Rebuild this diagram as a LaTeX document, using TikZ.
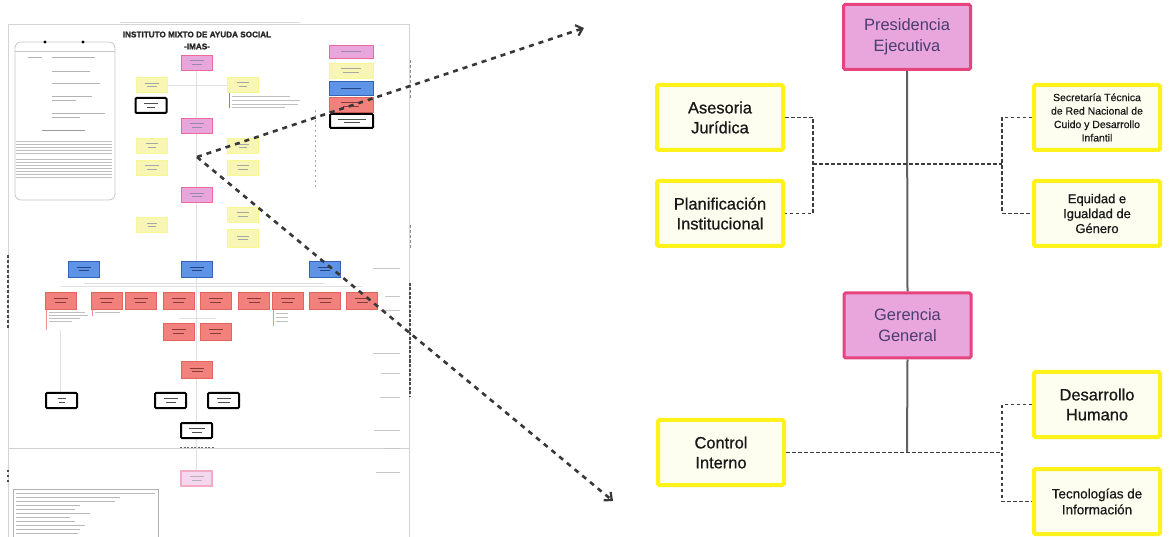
\documentclass[tikz,border=0pt]{standalone}
\usepackage{fontspec}
\setmainfont{Liberation Sans}
\usetikzlibrary{arrows.meta}
\definecolor{pinkF}{HTML}{E8A6DC}
\definecolor{pinkB}{HTML}{E5457F}
\definecolor{yelB}{HTML}{FFF21A}
\definecolor{yelF}{HTML}{FDFEF0}
\definecolor{lineC}{HTML}{3C3C3C}
\definecolor{txtP}{HTML}{4A3D70}
\definecolor{tYel}{HTML}{F8F6B4}
\definecolor{tBlueF}{HTML}{5F93E6}
\definecolor{tBlueB}{HTML}{3462B8}
\definecolor{tRedF}{HTML}{F2807C}
\definecolor{tRedB}{HTML}{E3645E}
\definecolor{frameC}{HTML}{D4D4D4}
\newcommand\tbar[1]{\rule{#1}{0.9bp}}
\tikzset{
  pinkbig/.style={draw=pinkB, line width=3bp, fill=pinkF, minimum width=127bp, minimum height=65bp,
    align=center, text=txtP, inner sep=0pt, rounded corners=1.5bp, font=\fontsize{16.5}{21}\selectfont},
  yelbig/.style={draw=yelB, line width=4bp, fill=yelF, minimum width=126bp, minimum height=65bp,
    align=center, text=black!90, inner sep=0pt, rounded corners=1.5bp},
  fbig/.style={font=\fontsize{16.5}{20}\selectfont\addfontfeature{FakeBold=0.8}},
  solidc/.style={draw=black!62, line width=2bp},
  dashc/.style={draw=lineC, line width=1.8bp, dash pattern=on 3.5bp off 2.5bp},
  zoomarrow/.style={draw=black!78, line width=2.6bp, dash pattern=on 5bp off 5bp,
    -{Straight Barb[length=6bp,width=11bp,line width=2.2bp]}},
  tbox/.style={minimum width=31bp, minimum height=15bp, inner sep=0pt, align=center,
    font=\fontsize{3}{3}\selectfont, line width=0.8bp},
  tpink/.style={tbox, draw=pinkB!80, fill=pinkF, text=txtP!60},
  tyel/.style={tbox, draw=tYel!80!yellow, fill=tYel, text=black!35},
  tblue/.style={tbox, minimum height=16bp, draw=tBlueB, fill=tBlueF, text=tBlueB!70!black},
  tred/.style={tbox, minimum height=17bp, draw=tRedB, fill=tRedF, text=tRedB!60!black},
  tblack/.style={tbox, draw=black, line width=2bp, fill=white, rounded corners=1bp, text=black!70},
  tfaint/.style={draw=black!12, line width=0.6bp},
}
\begin{document}
\begin{tikzpicture}[x=1bp,y=-1bp]
\useasboundingbox (0,0) rectangle (1170,537);
\fill[white] (0,0) rectangle (1170,537);

% ================= THUMBNAIL (left) =================
\draw[frameC, line width=1bp] (8,545) -- (8,25) -- (409,25) -- (409,545);
\draw[black!15, line width=0.6bp] (120,22) -- (300,22);
\draw[black!70, line width=1.2bp, dash pattern=on 3bp off 2bp] (8,255) -- (8,330);
\draw[black!70, line width=1.2bp, dash pattern=on 2bp off 3bp] (8,470) -- (8,485);
\draw[black!70, line width=1.6bp, dash pattern=on 3bp off 1.5bp] (410,283) -- (410,397);
\draw[black!45, line width=1bp, dash pattern=on 3bp off 2bp] (410,60) -- (410,100);
\draw[black!45, line width=1bp, dash pattern=on 3bp off 2bp] (410,225) -- (410,250);
\draw[black!18, line width=0.8bp] (8,448) -- (409,448);

% title
\node[font=\bfseries\fontsize{8.2}{9}\selectfont\addfontfeature{FakeBold=1.5}, text=black!85, inner sep=0pt] (ttitle) at (197,34.5) {INSTITUTO MIXTO DE AYUDA SOCIAL};
\node[font=\bfseries\fontsize{8.2}{9}\selectfont\addfontfeature{FakeBold=1.5}, text=black!85, inner sep=0pt] (ttitle2) at (197,46.5) {-IMAS-};

% left panel
\draw[black!22, line width=0.8bp, rounded corners=6bp] (15,42) rectangle (115,200);
\draw[black!22, line width=0.6bp] (15,51) -- (115,51);
\fill[black] (45,42) circle (1.6bp) (83,42) circle (1.6bp);
\foreach \ya/\xa/\xb in {57/28/42, 57/52/95, 71/52/90, 83/52/100, 96/52/92, 100/52/76, 113/52/105, 117/52/80}
  \draw[black!30, line width=0.9bp] (\xa,\ya) -- (\xb,\ya);
\draw[black!40, line width=1bp] (42,131) -- (85,131);
\foreach \ya in {141,144,147,150,153,159,162,165,168,171,174,177}
  \draw[black!25, line width=0.7bp] (16,\ya) -- (112,\ya);

% faint connectors
\draw[tfaint] (196.5,62) -- (196.5,480);
\draw[tfaint] (167,85) -- (228,85);
\draw[tfaint] (83.5,283) -- (324.5,283);
\draw[tfaint] (60.5,286) -- (362,286);
\draw[tfaint] (178.5,318) -- (215.5,318);
\draw[tfaint] (60.5,330) -- (60.5,393);
\draw[black!35, line width=0.8bp, dash pattern=on 2bp off 3bp] (315,110) -- (315,190);

% red side lines with text
\draw[tRedB, line width=1bp] (229,82) -- (229,108);
\foreach \ya/\xb in {96/290, 100/300, 104/298, 107/285}
  \draw[black!25, line width=0.8bp] (232,\ya) -- (\xb,\ya);
\draw[tRedB!70, line width=0.8bp] (46,309) -- (46,330);
\foreach \ya/\xb in {312/85, 315/88, 318/80, 321/72}
  \draw[black!25, line width=0.7bp] (49,\ya) -- (\xb,\ya);
\draw[tRedB!70, line width=0.8bp] (92,309) -- (92,316);
\draw[black!25, line width=0.7bp] (95,312) -- (120,312);
\draw[tRedB!70, line width=0.8bp] (273,309) -- (273,326);
\foreach \ya in {313,317,321}
  \draw[black!25, line width=0.7bp] (276,\ya) -- (288,\ya);

% right margin labels
\foreach \ya/\xa in {268/373, 296/385, 310/380, 353/373, 373/381, 397/380, 430/374, 448/385, 472/376}
  \draw[black!22, line width=0.9bp] (\xa,\ya) -- (400,\ya);

% centre column
\node[tpink] (tp1) at (196.5,62.5) {\tbar{14bp}\\[0.8bp]\tbar{10bp}};
\node[tpink] (tp2) at (196.5,125.5) {\tbar{14bp}\\[0.8bp]\tbar{10bp}};
\node[tpink] (tp3) at (196.5,195) {\tbar{14bp}\\[0.8bp]\tbar{10bp}};
% left yellow
\node[tyel] (ty1) at (152,85) {\tbar{14bp}\\[0.8bp]\tbar{10bp}};
\node[tblack] (tk0) at (151,105.5) {\tbar{14bp}\\[0.8bp]\tbar{8bp}};
\node[tyel] (ty2) at (152,145.5) {\tbar{12bp}\\[0.8bp]\tbar{8bp}};
\node[tyel] (ty3) at (152,167.5) {\tbar{14bp}\\[0.8bp]\tbar{10bp}};
\node[tyel] (ty4) at (152,225) {\tbar{10bp}\\[0.8bp]\tbar{8bp}};
% right yellow
\node[tyel] (ty5) at (243,84.5) {\tbar{12bp}\\[0.8bp]\tbar{8bp}};
\node[tyel] (ty6) at (243,146) {\tbar{12bp}\\[0.8bp]\tbar{8bp}};
\node[tyel] (ty7) at (243,167.5) {\tbar{12bp}\\[0.8bp]\tbar{10bp}};
\node[tyel] (ty8) at (243,214.5) {\tbar{12bp}\\[0.8bp]\tbar{10bp}};
\node[tyel, minimum height=18bp] (ty9) at (243,238) {\tbar{12bp}\\[0.8bp]\tbar{10bp}};
% legend
\node[tpink, minimum width=44bp, minimum height=13bp] (tl1) at (351,51.5) {\tbar{20bp}};
\node[tyel, minimum width=44bp] (tl2) at (351,70.5) {\tbar{20bp}\\[0.8bp]\tbar{16bp}};
\node[tblue, minimum width=44bp, minimum height=14bp] (tl3) at (351,88) {\tbar{20bp}};
\node[tred, minimum width=44bp, minimum height=15bp] (tl4) at (351,104.5) {\tbar{20bp}\\[0.8bp]\tbar{16bp}};
\node[tblack, minimum width=43bp, minimum height=14bp] (tl5) at (351.5,121) {\tbar{28bp}\\[0.8bp]\tbar{16bp}};
% blue row
\node[tblue] (tb1) at (83.5,269) {\tbar{14bp}\\[0.8bp]\tbar{10bp}};
\node[tblue] (tb2) at (197,269) {\tbar{14bp}\\[0.8bp]\tbar{10bp}};
\node[tblue] (tb3) at (324.5,269) {\tbar{14bp}\\[0.8bp]\tbar{10bp}};
% red row
\foreach \xc [count=\i] in {60.5,106.5,140.5,178.5,215.5,254,287.5,325,362}
  \node[tred] (tr\i) at (\xc,300.5) {\tbar{14bp}\\[0.8bp]\tbar{11bp}};
\node[tred] (tr10) at (178.5,331.5) {\tbar{14bp}\\[0.8bp]\tbar{11bp}};
\node[tred] (tr11) at (215.5,331.5) {\tbar{14bp}\\[0.8bp]\tbar{11bp}};
\node[tred] (tr12) at (197,370) {\tbar{14bp}\\[0.8bp]\tbar{11bp}};
% black outlined
\node[tblack] (tk1) at (61.5,400.5) {\tbar{8bp}\\[0.8bp]\tbar{6bp}};
\node[tblack] (tk2) at (170.5,400.5) {\tbar{14bp}\\[0.8bp]\tbar{10bp}};
\node[tblack] (tk3) at (223.5,400.5) {\tbar{14bp}\\[0.8bp]\tbar{12bp}};
\node[tblack] (tk4) at (196.5,430.5) {\tbar{16bp}\\[0.8bp]\tbar{10bp}};
\draw[black!60, line width=1bp, dash pattern=on 2bp off 1.5bp] (180,447) -- (214,447);
% light pink bottom
\node[tbox, draw=pinkB!45, line width=1.4bp, fill=pinkF!45, text=black!30] (tp4) at (196.5,478.5) {\tbar{14bp}\\[0.8bp]\tbar{10bp}};
% bottom-left text box
\draw[black!30, line width=0.8bp] (13,545) -- (13,489) -- (158,489) -- (158,545);
\foreach \ya/\xb in {493/155, 497/120, 501/115, 505/80, 509/75, 513/90, 517/70, 521/75, 525/85, 529/80, 533/78}
  \draw[black!28, line width=0.8bp] (16,\ya) -- (\xb,\ya);

% ================= ZOOMED DETAIL (right) =================
\node[pinkbig] (pres) at (907,37) {Presidencia\\Ejecutiva};
\node[pinkbig] (ger) at (907.5,325.5) {Gerencia\\General};

\node[yelbig, fbig] (ases) at (720,117.5) {Asesoria\\Jurídica};
\node[yelbig, fbig] (plan) at (720,213.5) {Planificación\\Institucional};
\node[yelbig, font=\fontsize{10.5}{13.5}\selectfont\addfontfeature{FakeBold=0.5}] (secr) at (1097,117.5) {Secretaría Técnica\\de Red Nacional de\\Cuido y Desarrollo\\Infantil};
\node[yelbig, font=\fontsize{13}{15}\selectfont\addfontfeature{FakeBold=0.6}] (equi) at (1097,213.5) {Equidad e\\Igualdad de\\Género};
\node[yelbig, fbig] (cont) at (721,452.5) {Control\\Interno};
\node[yelbig, fbig] (desa) at (1097,404.5) {Desarrollo\\Humano};
\node[yelbig, font=\fontsize{13.5}{16}\selectfont\addfontfeature{FakeBold=0.6}] (tecn) at (1097,501.5) {Tecnologías de\\Información};

\coordinate (jl) at (813,164);
\coordinate (jr) at (1002,164);
\coordinate (jb) at (907,452.5);
\coordinate (jbr) at (1002,452.5);

\draw[solidc] (pres.south) -- (ger.north);
\draw[solidc] (ger.south) -- (jb);

\draw[dashc] (ases.east) -| (jl) |- (plan.east);
\draw[dashc] (jl) -- (jr);
\draw[dashc] (secr.west) -| (jr) |- (equi.west);
\draw[dashc] (cont.east) -- (jbr);
\draw[dashc] (desa.west) -| (jbr) |- (tecn.west);

% ================= zoom arrows =================
\coordinate (src) at (197,157);
\coordinate (tipA) at (584,28);
\coordinate (tipB) at (613,501);
\draw[zoomarrow] (src) -- (tipA);
\draw[zoomarrow] (src) -- (tipB);
\end{tikzpicture}
\end{document}
